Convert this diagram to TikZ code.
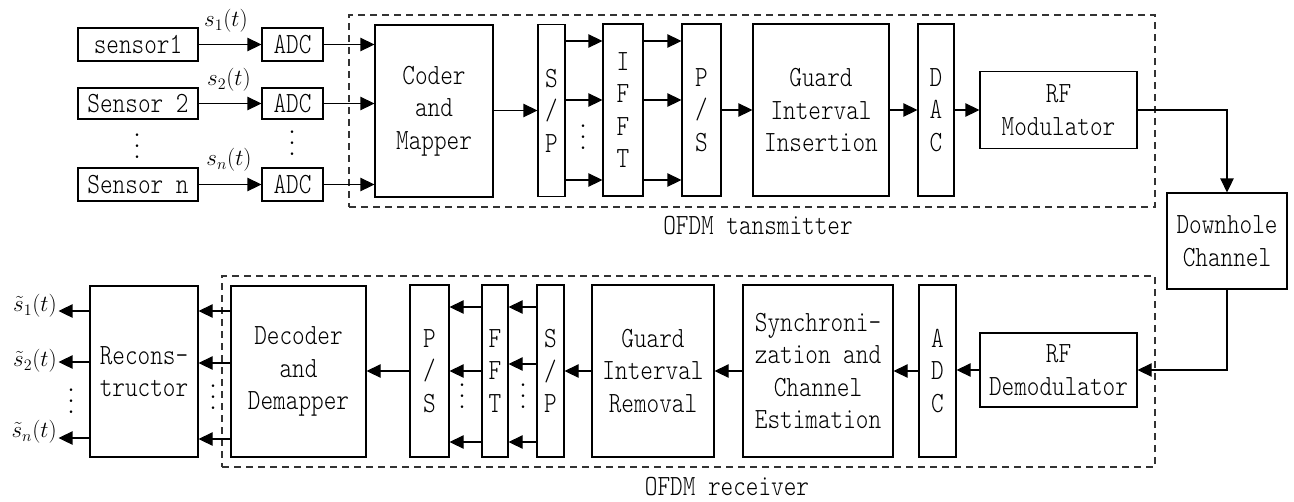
\documentclass[tikz,border=0pt]{standalone}
\usepackage{fontspec}
\newfontfamily\tf[FakeStretch=0.82]{lmmonolt10-regular.otf}
\usetikzlibrary{arrows.meta}
\newdimen\pxu \pxu=0.75pt
\newcommand\vdts{\vbox{\baselineskip=8.25pt\lineskiplimit=0pt\hbox{.}\hbox{.}\hbox{.}}}
\newcommand\bx[6]{\node[blk, minimum width=#4\pxu, minimum height=#5\pxu] (#1) at (#2,#3) {#6};}
\tikzset{
  blk/.style={draw, line width=0.8pt, inner sep=0pt, align=center, font=\tf\fontsize{22}{24.3}\selectfont},
  arr/.style={-{Triangle[length=10.5pt,width=10pt]}, line width=0.8pt},
  dashbox/.style={draw=black!80, line width=0.8pt, dash pattern=on 5.5pt off 3.5pt, inner sep=0pt},
  lbl/.style={inner sep=0pt, font=\tf\fontsize{22}{24.3}\selectfont},
  mlbl/.style={inner sep=0pt, font=\fontsize{17.5}{20}\selectfont},
  dts/.style={inner sep=0pt, font=\fontsize{24}{24}\selectfont}
}
\begin{document}
\begin{tikzpicture}[x=0.75pt,y=-0.75pt]
\useasboundingbox (0,0) rectangle (1294,501);
% dashed frames
\node[dashbox, minimum width=806\pxu, minimum height=192\pxu] (tx) at (752,111) {};
\node[dashbox, minimum width=933\pxu, minimum height=191\pxu] (rx) at (688.5,371.5) {};
\node[lbl] (txl) at (758,226) {OFDM tansmitter};
\node[lbl] (rxl) at (727,487) {OFDM receiver};
% transmitter
\bx{s1}{138}{44.5}{120}{33}{sensor1}
\bx{s2}{138}{103.5}{120}{31}{Sensor 2}
\bx{sn}{138}{184.5}{120}{33}{Sensor n}
\bx{a1}{292.5}{44.5}{61}{33}{ADC}
\bx{a2}{292.5}{103.5}{61}{31}{ADC}
\bx{an}{292.5}{184.5}{61}{33}{ADC}
\bx{coder}{434}{111}{118}{172}{Coder\\and\\Mapper}
\bx{sp}{551.5}{110.5}{27}{172}{S\\/\\P}
\bx{ifft}{623}{110}{40}{172}{I\\F\\F\\T}
\bx{ps}{701.5}{110}{39}{172}{P\\/\\S}
\bx{guard}{821}{110}{136}{172}{Guard\\Interval\\Insertion}
\bx{dac}{936}{110}{36}{172}{D\\A\\C}
\bx{rfm}{1058.5}{110}{157}{77}{RF\\Modulator}
\bx{dh}{1227}{241}{120}{96}{Downhole\\Channel}
% receiver
\bx{rfd}{1058.5}{370}{157}{74}{RF\\Demodulator}
\bx{adr}{937.5}{371}{37}{172}{A\\D\\C}
\bx{sync}{818}{371}{150}{172}{Synchroni-\\zation and\\Channel\\Estimation}
\bx{gr}{653}{371}{122}{172}{Guard\\Interval\\Removal}
\bx{spr}{550.5}{371}{27}{172}{S\\/\\P}
\bx{fft}{495}{371}{26}{172}{F\\F\\T}
\bx{psr}{429.5}{371}{39}{172}{P\\/\\S}
\bx{dec}{298.5}{371.5}{135}{171}{Decoder\\and\\Demapper}
\bx{rec}{144}{371.5}{108}{171}{Recons-\\tructor}
% labels
\node[mlbl] (l1) at (226,21) {$s_1(t)$};
\node[mlbl] (l2) at (229,80) {$s_2(t)$};
\node[mlbl] (ln) at (229,160) {$s_n(t)$};
\coordinate (e1) at (58.5,311);
\coordinate (e2) at (58.5,362);
\coordinate (en) at (58.5,438);
\node[mlbl, anchor=east] (o1) at (57,306) {$\tilde{s}_1(t)$};
\node[mlbl, anchor=east] (o2) at (57,361) {$\tilde{s}_2(t)$};
\node[mlbl, anchor=east] (on) at (57,432) {$\tilde{s}_n(t)$};
% dots
\node[dts] (d1) at (137,146) {\vdts};
\node[dts] (d2) at (292,143) {\vdts};
\node[dts] (d3) at (583,137) {\vdts};
\node[dts] (d4) at (523,396) {\vdts};
\node[dts] (d5) at (462,396) {\vdts};
\node[dts] (d6) at (213,397) {\vdts};
\node[dts] (d7) at (71,401) {\vdts};
% level coordinates
\coordinate (y41) at (0,41);
\coordinate (y100) at (0,100);
\coordinate (y180) at (0,180);
\coordinate (y307) at (0,307);
\coordinate (y364) at (0,364);
\coordinate (y371) at (0,371);
\coordinate (y442) at (0,442);
\coordinate (y311) at (0,311);
\coordinate (y363) at (0,363);
\coordinate (y439) at (0,439);
% transmitter arrows
\draw[arr] (s1) -- (a1);
\draw[arr] (s2) -- (a2);
\draw[arr] (sn) -- (an);
\draw[arr] (a1.east) -- (a1.east -| coder.west);
\draw[arr] (a2.east) -- (a2.east -| coder.west);
\draw[arr] (an.east) -- (an.east -| coder.west);
\draw[arr] (coder.east |- sp.west) -- (sp.west);
\draw[arr] (sp.east |- y41) -- (ifft.west |- y41);
\draw[arr] (sp.east |- y100) -- (ifft.west |- y100);
\draw[arr] (sp.east |- y180) -- (ifft.west |- y180);
\draw[arr] (ifft.east |- y41) -- (ps.west |- y41);
\draw[arr] (ifft.east |- y100) -- (ps.west |- y100);
\draw[arr] (ifft.east |- y180) -- (ps.west |- y180);
\draw[arr] (ps) -- (guard);
\draw[arr] (guard) -- (dac);
\draw[arr] (dac) -- (rfm);
\draw[arr] (rfm.east) -| (dh.north);
\draw[arr] (dh.south) |- (rfd.east);
% receiver arrows
\draw[arr] (rfd.west) -- (rfd.west -| adr.east);
\draw[arr] (adr) -- (sync);
\draw[arr] (sync) -- (gr);
\draw[arr] (gr) -- (spr);
\draw[arr] (spr.west |- y307) -- (fft.east |- y307);
\draw[arr] (spr.west |- y364) -- (fft.east |- y364);
\draw[arr] (spr.west |- y442) -- (fft.east |- y442);
\draw[arr] (fft.west |- y307) -- (psr.east |- y307);
\draw[arr] (fft.west |- y371) -- (psr.east |- y371);
\draw[arr] (fft.west |- y442) -- (psr.east |- y442);
\draw[arr] (psr.west) -- (psr.west -| dec.east);
\draw[arr] (dec.west |- y311) -- (rec.east |- y311);
\draw[arr] (dec.west |- y363) -- (rec.east |- y363);
\draw[arr] (dec.west |- y439) -- (rec.east |- y439);
\draw[arr] (rec.west |- e1) -- (e1);
\draw[arr] (rec.west |- e2) -- (e2);
\draw[arr] (rec.west |- en) -- (en);
\end{tikzpicture}
\end{document}
